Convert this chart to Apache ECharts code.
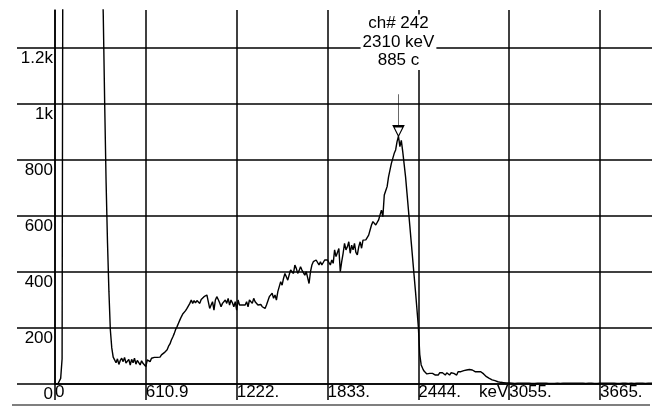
<!DOCTYPE html>
<html><head><meta charset="utf-8">
<script src="https://cdn.jsdelivr.net/npm/echarts@6/dist/echarts.min.js"></script>
<style>html,body{margin:0;padding:0;background:#fff}#c{width:652px;height:406px}</style>
</head><body><div id="c"></div>
<script>
// energy calibration (keV per channel)
const keVPerChannel = 9.5453;
// counts per channel, channel 0 .. 421
const counts = [
  0, 0, 0, 2, 20, 90,
  2900, 3400, 3800, 4100, 4300, 4400, 4350, 4200, 4100, 3950, 3800, 3700, 3550, 3400,
  3300, 3150, 3000, 2900, 2750, 2600, 2500, 2350, 2200, 2100, 1950, 1850,
  1700, 1520, 1320, 1004, 721, 504, 329, 193, 129, 96,
  86, 76, 90, 70, 84, 92, 80, 95, 75, 82,
  88, 68, 88, 76, 92, 71, 84, 86, 68, 83,
  74, 80, 62, 86, 82, 80, 92, 86, 95, 88,
  95, 95, 96, 104, 110, 112, 115, 122, 135, 143,
  157, 168, 180, 195, 205, 217, 229, 240, 250, 256,
  262, 270, 276, 288, 300, 288, 298, 290, 298, 300,
  288, 302, 300, 312, 316, 318, 294, 270, 282, 294,
  264, 300, 312, 302, 290, 276, 288, 282, 300, 288,
  306, 282, 300, 290, 276, 294, 264, 300, 282, 276,
  282, 288, 282, 294, 276, 300, 294, 288, 306, 294,
  300, 282, 288, 284, 276, 282, 270, 282, 288, 312,
  318, 324, 306, 318, 300, 330, 348, 365, 353, 377,
  395, 389, 371, 390, 407, 413, 395, 425, 413, 395,
  405, 419, 407, 413, 389, 401, 380, 359, 401, 425,
  437, 431, 443, 434, 425, 437, 425, 431, 443, 437,
  443, 449, 425, 443, 431, 479, 455, 470, 484, 401,
  437, 467, 502, 479, 490, 508, 467, 496, 479, 502,
  470, 461, 490, 508, 485, 514, 508, 515, 520, 532,
  550, 568, 580, 574, 568, 562, 586, 604, 621, 598,
  675, 690, 705, 740, 764, 788, 806, 824, 836, 866,
  885, 848, 870, 830, 836, 740, 682, 623, 565, 506,
  447, 388, 330, 268, 205, 105, 68, 56, 46, 40,
  36, 32, 38, 32, 38, 34, 32, 38, 32, 40,
  36, 40, 34, 32, 40, 38, 32, 40, 36, 38,
  36, 32, 44, 38, 44, 46, 48, 44, 50, 44,
  52, 48, 50, 46, 44, 48, 44, 48, 44, 42,
  36, 32, 26, 22, 20, 18, 15, 13, 12, 10,
  8, 7, 6, 6, 5, 5, 4, 4, 4, 3,
  3, 3, 2, 3, 3, 2, 3, 3, 3, 2,
  3, 2, 3, 3, 2, 3, 2, 3, 3, 2,
  3, 3, 3, 2, 3, 3, 2, 3, 2, 3,
  2, 3, 3, 3, 2, 3, 3, 2, 3, 3,
  3, 2, 3, 2, 3, 3, 3, 2, 3, 2,
  3, 3, 2, 3, 3, 2, 3, 3, 2, 3,
  2, 3, 3, 2, 3, 3, 3, 2, 3, 3,
  3, 2, 3, 3, 2, 3, 2, 3, 3, 2,
  3, 3, 2, 3, 3, 3, 2, 3, 3, 2,
  3, 2, 3, 3, 2, 3, 3, 2, 3, 3
];
const xTickValues = [0, 610.9, 1221.8, 1832.7, 2443.6, 3054.5, 3665.4];
const xTickLabels = ['0', '610.9', '1222.', '1833.', '2444.', '3055.', '3665.'];
const yTickValues = [0, 200, 400, 600, 800, 1000, 1200];
const yTickLabels = ['0', '200', '400', '600', '800', '1k', '1.2k'];
const xUnit = 'keV';
const peakChannel = 242;
const peakKeV = 2310;
const peakCounts = 885;
const xMax = 4015;
const yMax = 1336;

const font = '"Liberation Sans", Arial, sans-serif';
const ink = '#000';
const seriesData = counts.map((c, i) => [i * keVPerChannel, c]);

const chart = echarts.init(document.getElementById('c'), null, { renderer: 'canvas' });
chart.setOption({
  animation: false,
  backgroundColor: '#fff',
  textStyle: { fontFamily: font },
  grid: { left: 55, top: 10, right: 0, bottom: 22, containLabel: false, outerBoundsMode: 'none' },
  xAxis: {
    type: 'value', min: 0, max: xMax, interval: xTickValues[1],
    axisLine: { show: true, onZero: false, lineStyle: { color: ink, width: 1.5 } },
    axisTick: { show: true, customValues: xTickValues, length: 16, lineStyle: { color: ink, width: 1.5 } },
    axisLabel: {
      customValues: xTickValues, margin: 0, align: 'left', fontSize: 17, color: '#000', fontFamily: font,
      formatter: v => { const i = xTickValues.findIndex(t => Math.abs(t - v) < 1); return i >= 0 ? xTickLabels[i] : ''; }
    },
    splitLine: { show: true, lineStyle: { color: ink, width: 1.5 } }
  },
  yAxis: {
    type: 'value', min: 0, max: yMax, interval: 200,
    axisLine: { show: true, onZero: false, lineStyle: { color: ink, width: 1.5 } },
    axisTick: { show: true, customValues: yTickValues, length: 38, lineStyle: { color: ink, width: 1.5 } },
    axisLabel: {
      customValues: yTickValues, margin: 2, fontSize: 17, color: '#000', fontFamily: font,
      verticalAlign: 'top', padding: [2, 0, 0, 0],
      formatter: v => { const i = yTickValues.indexOf(Math.round(v)); return i >= 0 ? yTickLabels[i] : ''; }
    },
    splitLine: { show: true, lineStyle: { color: ink, width: 1.5 } }
  },
  graphic: [
    { type: 'text', left: 479, top: 384, z: 10,
      style: { text: xUnit, font: '17px "Liberation Sans", Arial, sans-serif', fill: '#000' } },
    { type: 'line', z: 10, shape: { x1: 12, y1: 405, x2: 650, y2: 405 }, style: { stroke: ink, lineWidth: 1.2 } }
  ],
  series: [{
    type: 'line',
    data: seriesData,
    showSymbol: false,
    symbol: 'none',
    sampling: 'none',
    clip: true,
    silent: true,
    lineStyle: { color: '#000', width: 1.4 },
    z: 3,
    markPoint: {
      animation: false,
      silent: true,
      symbol: 'path://M5,0L5,32M0,32L10,32L5,42Z',
      symbolSize: [10, 42],
      symbolKeepAspect: false,
      symbolOffset: [0, '-50%'],
      itemStyle: { color: '#fff', borderColor: '#000', borderWidth: 1.2 },
      label: {
        show: true, position: 'top', distance: 23,
        formatter: () => 'ch# ' + peakChannel + '\n' + peakKeV + ' ' + xUnit + '\n' + peakCounts + ' c',
        fontSize: 17, lineHeight: 18.5, color: '#000', fontFamily: font,
        backgroundColor: '#fff', padding: [0, 2], align: 'center'
      },
      data: [{ coord: [peakKeV, peakCounts] }]
    }
  }]
});
</script>
</body></html>
